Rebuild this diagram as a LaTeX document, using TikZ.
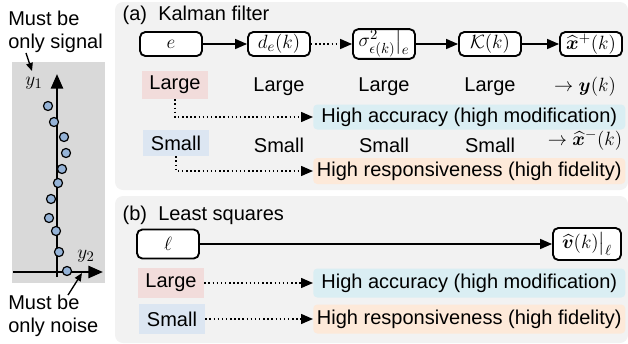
\documentclass[tikz,border=0pt]{standalone}
\usepackage{fontspec}
\setmainfont{Liberation Sans}
\usepackage{amsmath,bm}
\usetikzlibrary{arrows.meta, positioning}
\definecolor{panelbg}{HTML}{F2F2F2}
\definecolor{leftbg}{HTML}{D9D9D9}
\definecolor{hlred}{HTML}{F2DCDB}
\definecolor{hlblue}{HTML}{DCE6F2}
\definecolor{accblue}{HTML}{DAEEF3}
\definecolor{resorange}{HTML}{FDE9D9}
\definecolor{dotblue}{HTML}{95B3D7}
\newcommand{\wide}{234pt}

\begin{document}
\begin{tikzpicture}[
    x=0.75pt, y=-0.75pt,
    every node/.style={font=\fontsize{15}{17}\selectfont},
    panel/.style={fill=panelbg, rounded corners=6pt},
    blk/.style={draw, line width=1.4pt, rounded corners=4pt, fill=white,
                minimum width=46.5pt, minimum height=18pt, inner sep=1pt},
    flow/.style={line width=1.1pt, -{Triangle[length=9pt, width=7.5pt]}},
    dotflow/.style={line width=1.1pt, dotted, -{Triangle[length=9pt, width=7.5pt]}},
    tag/.style={inner sep=0pt, minimum width=49.5pt},
    wbox/.style={inner sep=0pt, minimum width=\wide, anchor=west, rounded corners=3pt},
    axis/.style={line width=2pt, -{Triangle[length=11pt, width=9pt]}},
    note/.style={align=left, anchor=west, inner sep=0pt},
    pointer/.style={line width=1pt, -{Triangle[length=6pt, width=5pt]}},
    sample/.style={draw, line width=0.9pt, fill=dotblue},
]
\useasboundingbox (0,0) rectangle (628,343);

% ---------------------------------------------------------------- left panel
\fill[leftbg] (12,62) rectangle (105,283);
\draw[axis] (57,277) -- (57,74);
\draw[axis] (13,272) -- (103,272);
\node (ylab1) at (34,83) {$y_1$};
\node (ylab2) at (86,256) {$y_2$};
\foreach \px/\py in {48/106, 54/122, 64/137, 66/153, 62/169, 58/183,
                     51/199, 49/218, 56/231, 59/252, 67/271} {
    \draw[sample] (\px,\py) circle (3.4pt);
}
\node[note] (sig) at (8,32) {Must be\\only signal};
\node[note] (noise) at (8,316) {Must be\\only noise};
\coordinate (sigtip) at (32,71);
\coordinate (noisetip) at (82,273);
\draw[pointer] (sig.south west) ++(18,0) -- (sigtip);
\draw[pointer] (noise.north west) ++(60,0) -- (noisetip);

% ---------------------------------------------------------------- (a) Kalman filter
\fill[panel] (115,2) rectangle (628,190);
\node[anchor=west] (ttlA) at (118,15) {(a)\;\;Kalman filter};

\node[blk] (e)    at (171,44) {$e$};
\node[blk] (de)   at (279,44) {$d_e(k)$};
\node[blk] (sig2) at (384,44) {$\sigma^2_{\epsilon(k)}\big|_e$};
\node[blk] (kal)  at (490,44) {$\mathcal{K}(k)$};
\node[blk] (xp)   at (591,44) {$\widehat{\bm{x}}^{+}(k)$};
\draw[flow] (e) -- (de);
\draw[dotflow] (de) -- (sig2);
\draw[flow] (sig2) -- (kal);
\draw[flow] (kal) -- (xp);

\node[tag, fill=hlred, minimum height=21pt] (lgA) at (175,85) {Large};
\foreach \cx/\nm in {279/lgA1, 384/lgA2, 490/lgA3} {
    \node (\nm) at (\cx,87) {Large};
}
\node (yk) at (585,87) {$\rightarrow \bm{y}(k)$};
\node[wbox, fill=accblue, minimum height=18.75pt] (accA) at (313,117) {High accuracy (high modification)};
\draw[dotflow] (lgA.south) |- (accA.west);

\node[tag, fill=hlblue, minimum height=19.5pt] (smA) at (176,143) {Small};
\foreach \cx/\nm in {279/smA1, 384/smA2, 490/smA3} {
    \node (\nm) at (\cx,145) {Small};
}
\node (xm) at (585,140) {$\rightarrow \widehat{\bm{x}}^{-}(k)$};
\node[wbox, fill=resorange, minimum height=19.5pt] (resA) at (313,171) {High responsiveness (high fidelity)};
\draw[dotflow] (smA.south) |- (resA.west);

% ---------------------------------------------------------------- (b) least squares
\fill[panel] (115,196) rectangle (628,343);
\node[anchor=west] (ttlB) at (118,215) {(b)\;\;Least squares};

\node[blk, minimum height=21.75pt] (ell) at (168,244) {$\ell$};
\node[blk, minimum height=24pt, minimum width=51pt] (vh) at (587,244) {$\widehat{\bm{v}}(k)\big|_\ell$};
\draw[flow] (ell) -- (vh);

\node[tag, fill=hlred, minimum height=23pt] (lgB) at (171,283) {Large};
\node[wbox, fill=accblue, minimum height=21.75pt] (accB) at (313,283) {High accuracy (high modification)};
\draw[dotflow] (lgB) -- (accB);

\node[tag, fill=hlblue, minimum height=23pt] (smB) at (172,319) {Small};
\node[wbox, fill=resorange, minimum height=21.75pt] (resB) at (313,319) {High responsiveness (high fidelity)};
\draw[dotflow] (smB) -- (resB);

\end{tikzpicture}
\end{document}
